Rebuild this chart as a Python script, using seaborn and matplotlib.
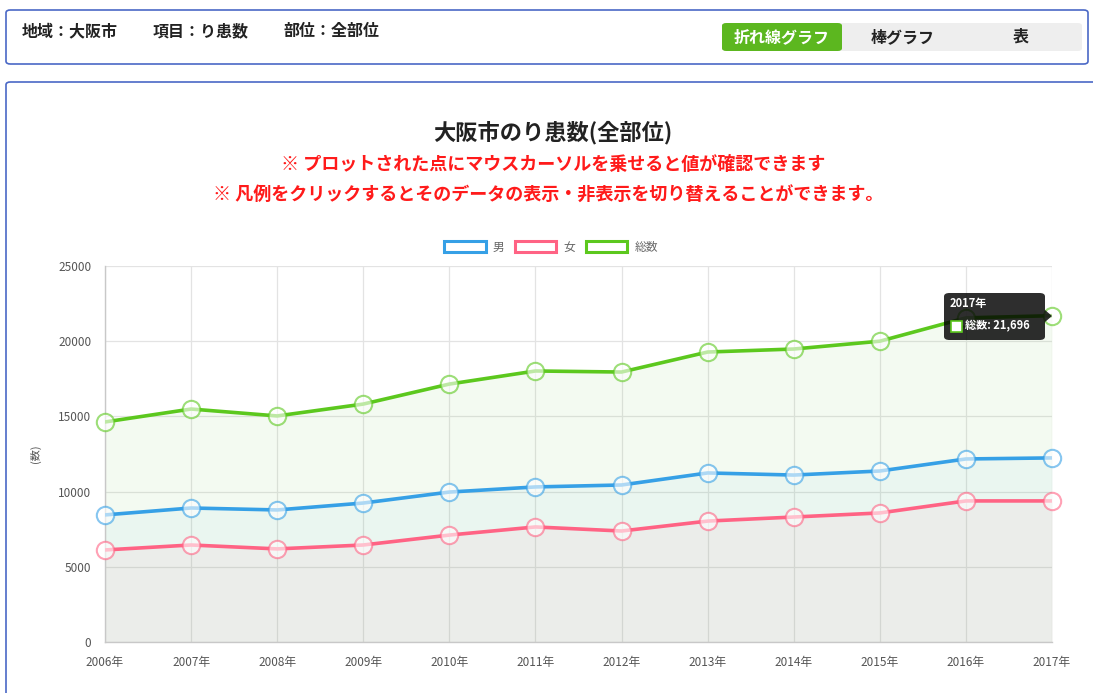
import matplotlib
matplotlib.use("Agg")
import matplotlib.pyplot as plt
from matplotlib.patches import FancyBboxPatch, Rectangle, Patch, Polygon
import numpy as np
import pandas as pd
import seaborn as sns

# data
years = ['2006年', '2007年', '2008年', '2009年', '2010年', '2011年',
         '2012年', '2013年', '2014年', '2015年', '2016年', '2017年']
male = [8450, 8910, 8780, 9240, 9970, 10310, 10440, 11240, 11100, 11370, 12170, 12240]
female = [6120, 6450, 6190, 6450, 7110, 7650, 7380, 8040, 8310, 8580, 9380, 9380]
total = [14630, 15490, 15030, 15820, 17150, 18020, 17950, 19280, 19480, 20000, 21550, 21696]
series_names = ['男', '女', '総数']
colors = {'男': '#36a0e6', '女': '#ff6384', '総数': '#5cc81e'}

sns.set_style("white")
plt.rcParams['font.family'] = ['Noto Sans CJK JP', 'DejaVu Sans']

W, H = 1093, 693
fig = plt.figure(figsize=(W / 100, H / 100), dpi=100)

def fx(x):
    return x / W

def fy(y):
    return 1 - y / H

# panels (behind the axes)
fig.patches.append(FancyBboxPatch((fx(6), fy(64)), fx(1082), 54 / H,
                                  boxstyle="round,pad=0,rounding_size=0.004",
                                  transform=fig.transFigure, fc='white', ec='#4a68c6', lw=1.2,
                                  zorder=-5))
fig.patches.append(FancyBboxPatch((fx(6), fy(705)), fx(1100), 623 / H,
                                  boxstyle="round,pad=0,rounding_size=0.004",
                                  transform=fig.transFigure, fc='white', ec='#4a68c6', lw=1.2,
                                  zorder=-5))

# header
for txt, x in [('地域：大阪市', 22), ('項目：り患数', 153), ('部位：全部位', 284)]:
    fig.text(fx(x), fy(31), txt, fontsize=11.5, fontweight='bold', ha='left', va='center',
             color='#222222')

fig.patches.append(FancyBboxPatch((fx(722), fy(51)), fx(360), 28 / H,
                                  boxstyle="round,pad=0,rounding_size=0.004",
                                  transform=fig.transFigure, fc='#eeeeee', ec='none', zorder=-4))
fig.patches.append(FancyBboxPatch((fx(722), fy(51)), fx(120), 28 / H,
                                  boxstyle="round,pad=0,rounding_size=0.004",
                                  transform=fig.transFigure, fc='#5cb71f', ec='none', zorder=-3))
fig.text(fx(782), fy(37), '折れ線グラフ', fontsize=11.5, color='white', fontweight='bold',
         ha='center', va='center')
fig.text(fx(903), fy(37), '棒グラフ', fontsize=11.5, color='#222222', fontweight='bold',
         ha='center', va='center')
fig.text(fx(1021), fy(37), '表', fontsize=11.5, color='#222222', fontweight='bold',
         ha='center', va='center')

# titles
fig.text(fx(553), fy(133), '大阪市のり患数(全部位)', fontsize=16, color='#222222',
         fontweight='bold', ha='center', va='center')
fig.text(fx(553), fy(164), '※ プロットされた点にマウスカーソルを乗せると値が確認できます',
         fontsize=13, color='#ff1a1a', fontweight='bold', ha='center', va='center')
fig.text(fx(548), fy(195), '※ 凡例をクリックするとそのデータの表示・非表示を切り替えることができます。',
         fontsize=13, color='#ff1a1a', fontweight='bold', ha='center', va='center')

# chart
ax = fig.add_axes([fx(105), fy(642), fx(1052 - 105), (642 - 266) / H])
idx = np.arange(len(years))
df = pd.DataFrame({
    'idx': np.tile(idx, 3),
    'value': male + female + total,
    'series': np.repeat(series_names, len(years)),
})

fills = {'総数': ((0.39, 0.75, 0.24), 0.07), '男': ((0.21, 0.63, 0.90), 0.045),
         '女': ((1.0, 0.39, 0.52), 0.055)}
vals = {'男': male, '女': female, '総数': total}
for name in ['総数', '男', '女']:
    c, a = fills[name]
    ax.fill_between(idx, vals[name], 0, color=c, alpha=a, lw=0, zorder=1)

sns.lineplot(data=df, x='idx', y='value', hue='series', palette=colors,
             linewidth=2.6, legend=False, ax=ax, zorder=3)
for name in series_names:
    ax.plot(idx, vals[name], linestyle='none', marker='o', markersize=12.5,
            mfc=(1, 1, 1, 0.25), mec=colors[name], mew=1.5, alpha=0.6, zorder=4,
            clip_on=False)

ax.set_xlim(0, len(years) - 1)
ax.set_ylim(0, 25000)
ax.set_xticks(idx)
ax.set_xticklabels(years)
ax.set_yticks(range(0, 25001, 5000))
ax.set_xlabel('')
ax.set_ylabel('(数)', fontsize=8, color='#555555', labelpad=12)
ax.grid(True, color='#e3e3e3', lw=0.9, zorder=0)
ax.set_axisbelow(True)
for s in ['top', 'right']:
    ax.spines[s].set_visible(False)
for s in ['left', 'bottom']:
    ax.spines[s].set_color('#c8c8c8')
    ax.spines[s].set_linewidth(1)
ax.tick_params(axis='y', length=8, color='#d8d8d8', labelsize=8.5, labelcolor='#555555', pad=2)
ax.tick_params(axis='x', length=0, labelsize=8.5, labelcolor='#555555', pad=10)
ax.set_facecolor('white')

# legend
handles = [Patch(fc=(1, 1, 1, 0.9), ec=colors[n], lw=2.2, label=n) for n in series_names]
fig.legend(handles=handles, loc='center', bbox_to_anchor=(fx(551), fy(247)), ncol=3,
           frameon=False, fontsize=8.5, handlelength=3.5, handleheight=1.0,
           handletextpad=0.6, columnspacing=0.9, labelcolor='#666666')

# tooltip
fig.patches.append(FancyBboxPatch((fx(944), fy(340)), fx(101), 47 / H,
                                  boxstyle="round,pad=0,rounding_size=0.005",
                                  transform=fig.transFigure, fc=(0, 0, 0, 0.82), ec='none',
                                  zorder=10))
fig.patches.append(Polygon([(fx(1045), fy(310)), (fx(1052), fy(316)), (fx(1045), fy(322))],
                           closed=True, transform=fig.transFigure, fc=(0, 0, 0, 0.82),
                           ec='none', zorder=10))
fig.text(fx(950), fy(304), '2017年', fontsize=8, fontweight='bold', color='white',
         ha='left', va='center', zorder=11)
fig.patches.append(Rectangle((fx(951), fy(332)), fx(11), 11 / H, transform=fig.transFigure,
                             fc='white', ec=colors['総数'], lw=1.2, zorder=11))
fig.text(fx(965), fy(326), '総数: 21,696', fontsize=8, fontweight='bold', color='white',
         ha='left', va='center', zorder=11)

fig.savefig('out.png', dpi=100)
